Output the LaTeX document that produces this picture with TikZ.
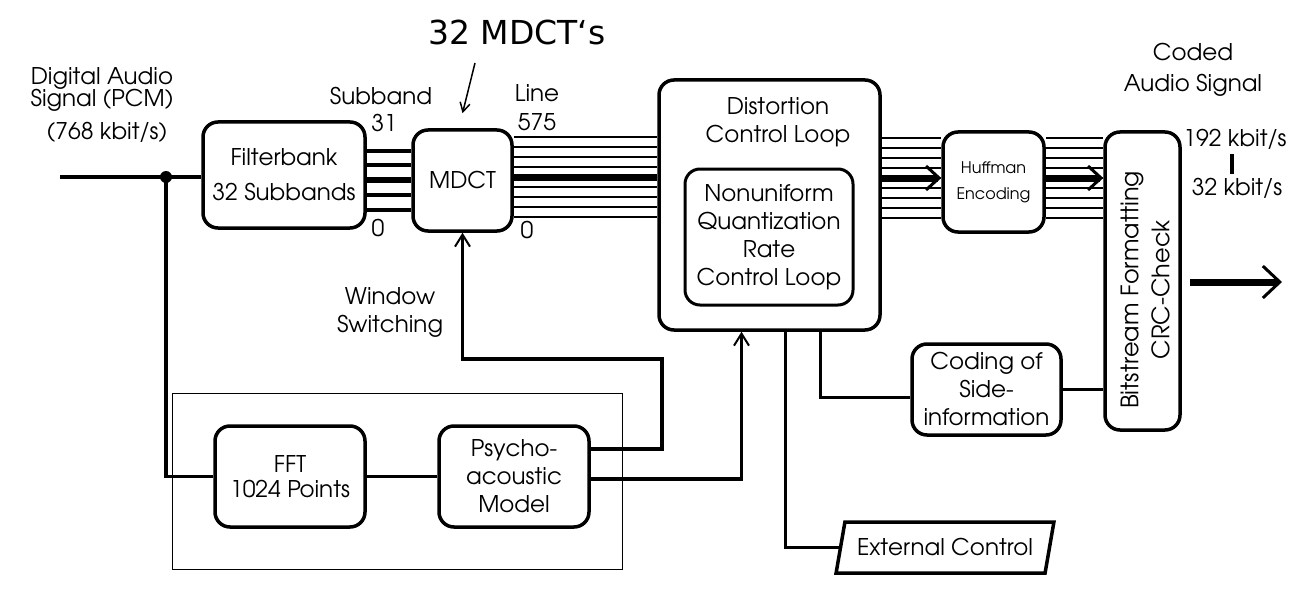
\documentclass[tikz,border=0pt]{standalone}
\usepackage{fontspec}
\newfontfamily\headfont{DejaVu Sans}
\usepackage[T1]{fontenc}
\usepackage{avant}
\renewcommand{\familydefault}{\sfdefault}
\usetikzlibrary{arrows.meta}
\usetikzlibrary{shapes.geometric}

\tikzset{
  blk/.style={draw, line width=3.5pt, rounded corners=15pt, inner sep=0pt},
  txt/.style={align=center, inner sep=0pt, font=\fontsize{23}{28}\selectfont},
  wire/.style={line width=3.5pt},
  hair/.style={line width=1.2pt},
  fat/.style={line width=7pt},
  barb/.style={-{Straight Barb[line width=3pt,length=13pt,width=24pt]}},
  bigbarb/.style={-{Straight Barb[line width=3pt,length=17pt,width=32pt]}},
  pin/.style={-{Straight Barb[line width=2pt,length=12pt,width=15pt]}},
}

\begin{document}
\begin{tikzpicture}[x=1pt,y=-1pt]
\useasboundingbox (0,0) rectangle (1298,591);

% blocks
\node[blk, txt, minimum width=162pt, minimum height=106pt] (fb) at (284,175) {Filterbank\\[7pt]32 Subbands};
\node[blk, txt, minimum width=99pt, minimum height=101pt] (mdct) at (462.5,180.5) {MDCT};
\node[blk, minimum width=221pt, minimum height=250pt] (dcl) at (769.5,205) {};
\node[txt] (dcltxt) at (778,122) {Distortion\\Control Loop};
\node[blk, line width=3pt, txt, minimum width=168pt, minimum height=136pt] (qnt) at (769,237) {Nonuniform\\Quantization\\Rate\\Control Loop};
\node[blk, txt, font=\fontsize{16}{26}\selectfont, minimum width=101pt, minimum height=100pt] (huf) at (993.5,182) {Huffman\\Encoding};
\node[blk, minimum width=75pt, minimum height=298pt] (bs) at (1142.5,281) {};
\node[txt, rotate=90, font=\fontsize{24}{31}\selectfont] (bstxt) at (1145,290) {Bitstream Formatting\\CRC-Check};
\node[blk, txt, minimum width=149pt, minimum height=91pt] (side) at (986.5,389.5) {Coding of\\Side-\\information};
\node[blk, txt, minimum width=150pt, minimum height=101pt] (fft) at (290,476.5) {FFT\\[-3pt]1024 Points};
\node[blk, txt, minimum width=150pt, minimum height=101pt] (psy) at (514,476.5) {Psycho-\\acoustic\\Model};
\node[draw, line width=3.5pt, trapezium, trapezium left angle=66, trapezium right angle=114,
  trapezium stretches=true, minimum width=218pt, minimum height=51pt, txt] (ext) at (945,547.5) {External Control};
\draw[line width=1pt] (172,393) rectangle (622,569);

% labels
\node[inner sep=0pt, font=\headfont\fontsize{33}{36}\selectfont] (title) at (517,32) {32 MDCT‘s};
\node[txt, font=\fontsize{23}{22}\selectfont] (pcm) at (102,89) {Digital Audio\\Signal (PCM)};
\node[txt] (pcmrate) at (107,133) {(768 kbit/s)};
\node[txt] (sb) at (381,96) {Subband};
\node[txt] (sbtop) at (384,123) {31};
\node[txt] (sbbot) at (378,228) {0};
\node[txt] (ln) at (537,93) {Line};
\node[txt] (lntop) at (537,122) {575};
\node[txt] (lnbot) at (527,230) {0};
\node[txt] (win) at (390,312) {Window\\Switching};
\node[txt] (coded) at (1193,70) {Coded\\[3pt]Audio Signal};
\node[txt] (hi) at (1235,139) {192 kbit/s};
\node[txt] (lo) at (1237,188) {32 kbit/s};
\draw[line width=4pt, shorten <=5pt, shorten >=4pt] ([xshift=-3pt]hi.south) -- ([xshift=-3pt]hi.south |- lo.north);

% signal path
\coordinate (src) at (60,177);
\coordinate (split) at (166,177);
\coordinate (out) at (1282,282);
\coordinate (tail) at (475,63);
\draw[wire] (src) -- (fb.west |- src);
\fill (split) circle (6pt);
\draw[wire] (split) |- (fft.west);
\draw[wire] (fft) -- (psy);
\foreach \y/\w in {151/3.5,165/3.5,180/6.5,195/3.5,210/3.5}
  \draw[line width=\w pt] (fb.east |- 0,\y) -- (mdct.west |- 0,\y);
\foreach \y in {137,147,...,217}
  \draw[hair] (mdct.east |- 0,\y) -- (dcl.west |- 0,\y);
\draw[fat] (mdct.east |- 0,177) -- (dcl.west |- 0,177);
\foreach \y in {138,148,...,218} {
  \draw[hair] (dcl.east |- 0,\y) -- (huf.west |- 0,\y);
  \draw[hair] (huf.east |- 0,\y) -- (bs.west |- 0,\y);
}
\draw[fat, barb] (dcl.east |- 0,178) -- (huf.west |- 0,178);
\draw[fat, barb] (huf.east |- 0,178) -- (bs.west |- 0,178);
\draw[fat, bigbarb, shorten <=8pt] (bs.east |- out) -- (out);
\draw[line width=1.5pt, -{Straight Barb[length=9pt,width=10pt]}] (tail) -- ([yshift=15pt]mdct.north);

% control paths
\draw[wire, pin] ([yshift=27.5pt]psy.east) -- ++(71,0) |- (mdct.south |- 0,359) -- (mdct.south);
\draw[wire, pin] ([yshift=-2.5pt]psy.east) -| ([xshift=-28pt]dcl.south);
\draw[wire] ([xshift=51pt]dcl.south) |- ([yshift=-8pt]side.west);
\draw[wire] (side.east) -- (bs.west |- side.east);
\draw[wire] ([xshift=16pt]dcl.south) |- (ext.west);
\end{tikzpicture}
\end{document}
